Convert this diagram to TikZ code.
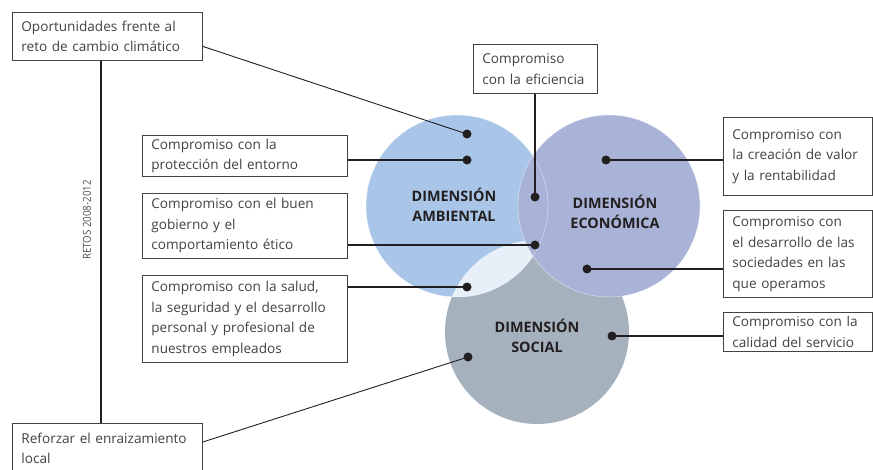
\documentclass[tikz,border=0pt]{standalone}
\usepackage{graphicx}
\usepackage{fontspec}
\setmainfont{Open Sans}
\definecolor{ambc}{HTML}{A9C6E9}
\definecolor{econc}{HTML}{A9B3D7}
\definecolor{socc}{HTML}{A5B1BD}
\definecolor{lightc}{HTML}{E7EFF9}
\definecolor{inkc}{HTML}{231F20}
\begin{document}
\begin{tikzpicture}[x=1pt,y=-1pt,
  box/.style={draw=inkc!85, line width=0.8pt, fill=white, anchor=north west, align=left,
    inner xsep=9pt, inner ysep=0pt, font=\fontsize{13.6}{20.5}\selectfont, text=inkc!85},
  dotmark/.style={circle, fill=inkc, inner sep=0pt, minimum size=9pt},
  link/.style={line width=1.1pt, inkc},
  dimlabel/.style={font=\fontsize{14.4}{20}\selectfont\bfseries, text=inkc, align=center}]
\useasboundingbox (0,0) rectangle (873,470);
% circles
\fill[socc] (537,332) circle (92pt);
\fill[ambc] (457,206) circle (91pt);
\begin{scope}
  \clip (457,206) circle (91pt);
  \fill[lightc] (537,332) circle (92pt);
\end{scope}
\fill[econc] (609,206) circle (91pt);
\draw[white, opacity=0.55, line width=0.5pt] (457,206) circle (91pt);
\draw[white, opacity=0.55, line width=0.5pt] (609,206) circle (91pt);
% labels
\node[dimlabel] (amb) at (454,205) {DIMENSIÓN\\AMBIENTAL};
\node[dimlabel] (eco) at (615,212) {DIMENSIÓN\\ECONÓMICA};
\node[dimlabel] (soc) at (537,336) {DIMENSIÓN\\SOCIAL};
% boxes
\node[box, minimum width=190pt, minimum height=48pt, text width=172pt] (A) at (12,12) {Oportunidades frente al\\reto de cambio climático};
\node[box, minimum width=190pt, minimum height=50pt, text width=172pt] (R) at (12,423) {Reforzar el enraizamiento\\local};
\node[box, minimum width=124pt, minimum height=49pt, text width=106pt] (B) at (473,44) {Compromiso\\con la eficiencia};
\node[box, minimum width=205pt, minimum height=41pt, text width=187pt] (C) at (142,135) {Compromiso con la\\protección del entorno};
\node[box, minimum width=205pt, minimum height=65pt, text width=187pt] (D) at (142,193) {Compromiso con el buen\\gobierno y el\\comportamiento ético};
\node[box, minimum width=205pt, minimum height=87pt, text width=187pt] (E) at (142,275) {Compromiso con la salud,\\la seguridad y el desarrollo\\personal y profesional de\\nuestros empleados};
\node[box, minimum width=149pt, minimum height=78pt, text width=131pt] (F) at (723,117) {Compromiso con\\la creación de valor\\y la rentabilidad};
\node[box, minimum width=149pt, minimum height=87pt, text width=131pt] (G) at (723,210) {Compromiso con\\el desarrollo de las\\sociedades en las\\que operamos};
\node[box, minimum width=149pt, minimum height=39pt, text width=131pt] (H) at (723,312) {Compromiso con la\\calidad del servicio};
\node[rotate=90, font=\fontsize{11}{12}\selectfont, text=inkc!80] (retos) at (87,220) {\scalebox{0.88}[1]{RETOS 2008-2012}};
% dots
\node[dotmark] (d1) at (467,134) {};
\node[dotmark] (d2) at (467,160) {};
\node[dotmark] (d3) at (535,197) {};
\node[dotmark] (d4) at (535,245) {};
\node[dotmark] (d5) at (467,287) {};
\node[dotmark] (d6) at (606,160) {};
\node[dotmark] (d7) at (587,269) {};
\node[dotmark] (d8) at (612,336) {};
\node[dotmark] (d9) at (468,357) {};
% connectors
\draw[link] (A.south -| 101,0) -- (R.north -| 101,0);
\draw[link, line width=0.9pt] ([yshift=-10pt]A.east) -- (d1.center);
\draw[link] (C.east |- d2) -- (d2.center);
\draw[link] (B.south -| d3) -- (d3.center);
\draw[link] (D.east |- d4) -- (d4.center);
\draw[link] (E.east |- d5) -- (d5.center);
\draw[link] (F.west |- d6) -- (d6.center);
\draw[link] (G.west |- d7) -- (d7.center);
\draw[link] (H.west |- d8) -- (d8.center);
\draw[link, line width=0.9pt] ([yshift=-19pt]R.north east) -- (d9.center);
\end{tikzpicture}
\end{document}
